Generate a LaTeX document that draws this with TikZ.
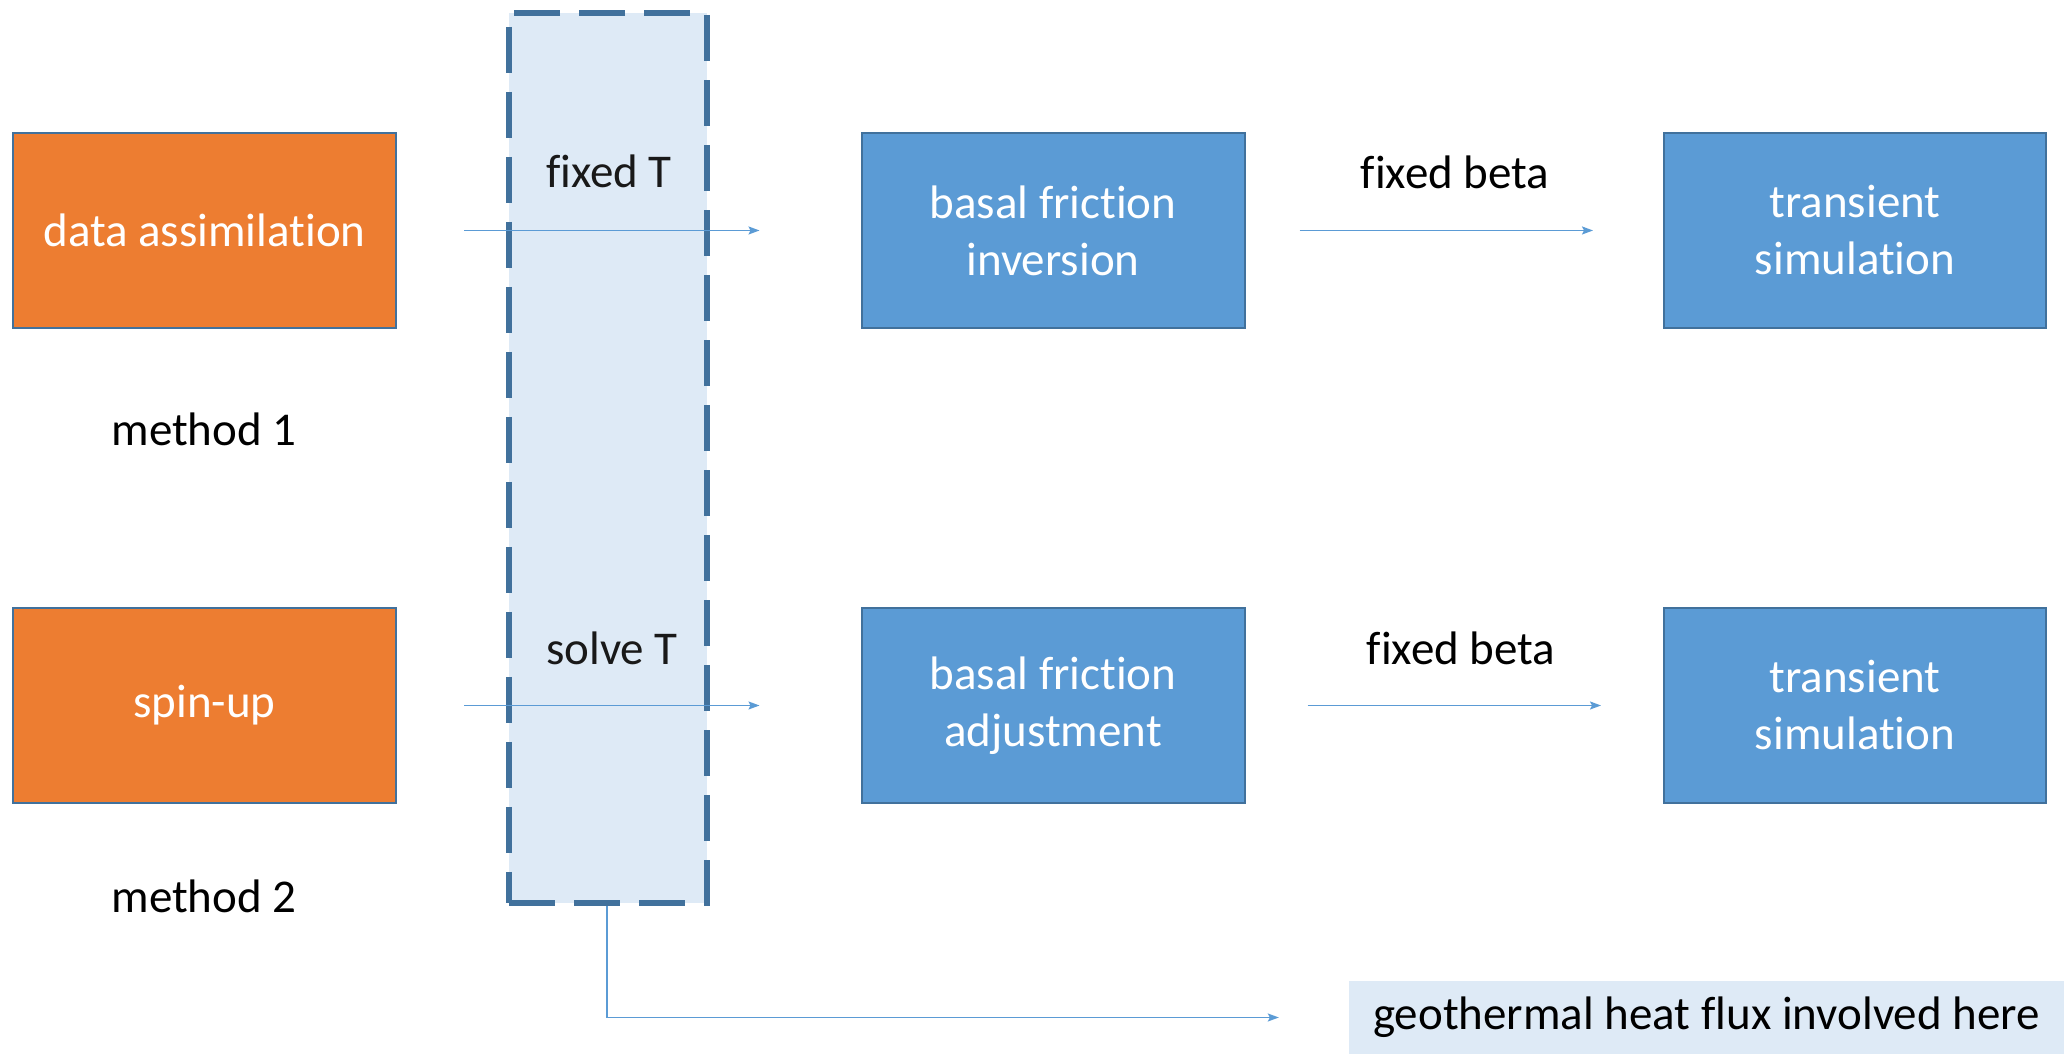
\documentclass[tikz,border=0pt]{standalone}
\usepackage{fontspec}
\setmainfont{Carlito}[RawFeature={-liga;-calt;-dlig}]
\usetikzlibrary{arrows.meta}
\definecolor{stepOrange}{HTML}{ED7D31}
\definecolor{stepBlue}{HTML}{5B9BD5}
\definecolor{edgeBlue}{HTML}{41719C}
\definecolor{paleBlue}{HTML}{DEEAF6}
\begin{document}
\begin{tikzpicture}[x=1bp,y=1bp,
    font=\fontsize{47bp}{57bp}\selectfont,
    >={Stealth[length=11bp,width=8bp,inset=2bp]},
    stage/.style={draw=edgeBlue,line width=2bp,minimum width=383bp,minimum height=195bp,text=white,align=center},
    method/.style={stage,fill=stepOrange},
    solver/.style={stage,fill=stepBlue},
    band/.style={draw=edgeBlue,fill=paleBlue,line width=6bp,dash pattern=on 46bp off 19bp},
    flow/.style={draw=stepBlue,line width=1.5bp}]
\useasboundingbox (0,0) rectangle (2064,1054);
		\node (Band) at (608bp,596bp) [band,minimum width=198bp,minimum height=890bp] {};
  \node (DA) at (204.5bp,823.5bp) [method] {data assimilation};
  \node (SpinUp) at (204.5bp,348.5bp) [method] {spin-up};
  \node (Inv) at (1053bp,823.5bp) [solver] {basal friction\\inversion};
  \node (Adj) at (1053bp,348.5bp) [solver] {basal friction\\adjustment};
  \node (Trans1) at (1855bp,823.5bp) [solver,minimum width=382bp] {transient\\simulation};
  \node (Trans2) at (1855bp,348.5bp) [solver,minimum width=382bp] {transient\\simulation};
  \node (Geo) at (1706.5bp,36.5bp) [fill=paleBlue,minimum width=715bp,minimum height=73bp] {geothermal heat flux involved here};
  \node (M1) at (204bp,625bp) {method 1};
  \node (M2) at (204bp,158bp) {method 2};
  \node (FixT) at (609bp,883bp) [text=black!90] {fixed T};
  \node (SolveT) at (612bp,406bp) [text=black!90] {solve T};
  \node (Beta1) at (1455bp,882bp) {fixed beta};
  \node (Beta2) at (1461bp,406bp) {fixed beta};
  \draw [->,flow] ([xshift=67bp]DA.east) -- ([xshift=-101bp]Inv.west);
  \draw [->,flow] ([xshift=67bp]SpinUp.east) -- ([xshift=-101bp]Adj.west);
  \draw [->,flow] ([xshift=54bp]Inv.east) -- ([xshift=-70bp]Trans1.west);
  \draw [->,flow] ([xshift=62bp]Adj.east) -- ([xshift=-62bp]Trans2.west);
  \draw [->,flow] ([xshift=-1bp]Band.south) |- ([xshift=-70bp]Geo.west);
	\end{tikzpicture}
\end{document}
